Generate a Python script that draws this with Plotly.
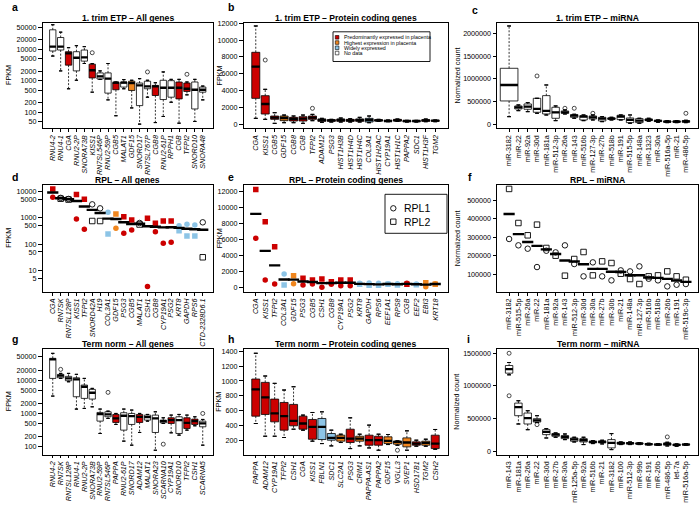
import plotly.graph_objects as go

FONT = "Liberation Sans, Arial, Helvetica, sans-serif"
W, H = 700, 508
COLX = [(42.5, 213.0), (243.5, 447.5), (497.0, 698.0)]
ROWY = [(22.7, 128.3), (185.0, 291.7), (349.0, 454.5)]
CLS_COLOR = {"P": "#CC0000", "H": "#F0861E", "W": "#8CC4E6", "N": "#FFFFFF"}

# ---------------- data ----------------
# a: 1. trim ETP - All genes (FPKM, log)
a_genes = ["RNU4-2", "RNU4-1", "CGA", "RNU2-2P", "SNORA73B", "KISS1", "RN7SL546P", "RNU2-59P", "CGB5", "MALAT1",
           "GDF15", "SNORD17", "RN7SL767P", "CGB8", "RNU2-61P", "RPPH1", "CGB", "TFPI2", "SNORD10", "SNORA48"]
a_class = ["N", "N", "P", "N", "N", "P", "N", "N", "P", "N", "H", "N", "N", "P", "N", "N", "P", "P", "N", "N"]
a_hi = [61000, 35300, 11300, 13100, 12200, 3500, 2050, 3530, 906, 1080, 1030, 1160, 1030, 860, 1900, 1100, 1100, 906, 1100, 673]
a_q3 = [42000, 23800, 8400, 8400, 9500, 3360, 1770, 1770, 880, 906, 960, 840, 960, 706, 1030, 1000, 906, 840, 906, 625]
a_med = [12200, 12200, 7430, 5380, 5520, 2150, 1380, 1160, 860, 860, 840, 706, 656, 656, 594, 594, 594, 552, 513, 513]
a_q1 = [8840, 9500, 3130, 2050, 4200, 1220, 1130, 400, 513, 625, 487, 160, 552, 336, 250, 297, 262, 453, 125, 430]
a_lo = [6100, 2050, 552, 1030, 3530, 430, 1100, 244, 76, 552, 135, 41, 297, 46, 72, 205, 44, 353, 50, 244]
a_out_genes = ["KISS1", "RN7SL767P", "TFPI2"]
a_out_vals = [7800, 1900, 1600]

# b: 1. trim ETP - Protein coding genes (FPKM)
b_genes = ["CGA", "KISS1", "CGB5", "GDF15", "CGB8", "CGB", "TFPI2", "ADAM12", "PSG3", "HIST1H3B", "HIST1H4D",
           "HIST1H4C", "COL3A1", "HIST1H2AC", "CYP19A1", "HIST1H1C", "PAPPA2", "SDC1", "HIST1H3F", "TGM2"]
b_class = ["P", "P", "P", "H", "P", "P", "P", "P", "P", "P", "P", "P", "W", "P", "P", "P", "P", "W", "P", "H"]
b_hi = [11690, 4135, 1350, 1070, 954, 1070, 1150, 676, 557, 716, 636, 795, 954, 557, 477, 596, 437, 437, 596, 477]
b_q3 = [8550, 3380, 954, 954, 795, 875, 954, 596, 517, 596, 557, 596, 676, 517, 437, 557, 398, 398, 517, 437]
b_med = [6840, 2385, 755, 716, 596, 636, 755, 477, 437, 477, 437, 477, 477, 437, 358, 437, 358, 358, 437, 398]
b_q1 = [3060, 1190, 557, 400, 358, 358, 557, 318, 318, 318, 318, 318, 238, 358, 318, 358, 278, 278, 318, 318]
b_lo = [676, 557, 80, 160, 160, 80, 400, 200, 238, 238, 238, 238, 160, 318, 278, 318, 238, 238, 278, 278]
b_out_genes = ["KISS1", "TFPI2"]
b_out_vals = [7630, 1870]

# c: 1. trim ETP - miRNA (normalized count)
c_genes = ["miR-3182", "miR-22", "miR-92a", "miR-30d", "miR-181a", "miR-512-3p", "miR-26a", "miR-143", "miR-516b",
           "miR-127-3p", "miR-27b", "miR-518b", "miR-191", "miR-515-5p", "miR-148a", "miR-1323", "miR-30a",
           "miR-516a-5p", "miR-21", "miR-486-5p"]
c_class = ["N"] * 20
c_hi = [2161000, 425000, 476000, 571000, 864000, 403000, 315000, 220000, 205000, 205000, 168000, 154000, 205000,
        205000, 132000, 132000, 95000, 80600, 80600, 88000]
c_q3 = [1231000, 403000, 447000, 571000, 630000, 374000, 293000, 212000, 190000, 183000, 154000, 139000, 198000,
        139000, 125000, 117000, 88000, 73000, 73000, 80600]
c_med = [864000, 374000, 388000, 337000, 293000, 264000, 264000, 190000, 168000, 154000, 125000, 125000, 168000,
         95000, 80600, 95000, 73000, 58600, 58600, 66000]
c_q1 = [513000, 337000, 330000, 264000, 227000, 132000, 242000, 154000, 95000, 117000, 73000, 110000, 103000,
        36600, 36600, 80600, 58600, 44000, 44000, 44000]
c_lo = [168000, 300000, 278000, 242000, 205000, 80600, 227000, 132000, 80600, 95000, 58600, 95000, 95000,
        22000, 22000, 66000, 44000, 36600, 36600, 36600]
c_out_genes = ["miR-30d", "miR-26a", "miR-143", "miR-127-3p", "miR-486-5p"]
c_out_vals = [1062000, 352000, 352000, 242000, 242000]

# d: RPL - All genes (FPKM, log)
d_genes = ["CGA", "RN7SK", "RN7SL128P", "KISS1", "TFPI2", "SNORD42A", "H19", "COL3A1", "GDF15", "PSG3", "CGB5",
           "MALAT1", "CSH1", "CGB8", "CYP19A1", "PSG2", "KRT8", "GAPDH", "RPS6", "CTD-2328D6.1"]
d_class = ["P", "N", "N", "P", "P", "N", "N", "W", "H", "P", "P", "N", "P", "P", "P", "P", "W", "W", "W", "N"]
d_rpl1 = [6080, 5800, 5300, 908, 366, 3290, 2320, 1630, 400, 258, 346, 640, 2.4, 298, 107, 117, 506, 569, 538, 678]
d_rpl2 = [12600, 5400, 5000, 7900, 5100, 762, 762, 243, 1410, 1110, 832, 560, 964, 621, 762, 762, 326, 204, 204, 31.4]

# e: RPL - Protein coding genes (FPKM)
e_genes = ["CGA", "KISS1", "TFPI2", "COL3A1", "GDF15", "PSG3", "CGB5", "CSH1", "CGB8", "CYP19A1", "PSG2", "KRT8",
           "GAPDH", "RPS6", "EEF1A1", "RPS8", "CGB", "EEF2", "EBI3", "KRT18"]
e_class = ["P", "P", "P", "W", "H", "P", "P", "P", "P", "P", "P", "W", "W", "W", "W", "W", "P", "W", "H", "H"]
e_rpl1 = [6145, 920, 418, 1672, 460, 293, 418, 2.4, 376, 209, 209, 500, 543, 500, 460, 460, 500, 418, 84, 460]
e_rpl2 = [12290, 8235, 5100, 293, 1463, 1150, 920, 1045, 710, 920, 920, 376, 250, 250, 376, 293, 376, 335, 585, 376]

# f: RPL - miRNA (normalized count)
f_genes = ["miR-3182", "miR-515-5p", "miR-26a", "miR-22", "miR-181a", "miR-92a", "miR-143", "miR-512-3p", "miR-30d",
           "miR-30a", "miR-27b", "miR-30b", "miR-21", "miR-148a", "miR-127-3p", "miR-516b", "miR-518b", "miR-26b",
           "miR-191", "miR-519c-3p"]
f_class = ["N"] * 20
f_rpl1 = [290900, 256300, 238000, 138000, 227000, 218000, 256300, 154500, 87300, 163600, 87300, 65500, 120000,
          114500, 141800, 74500, 65500, 32700, 41800, 45500]
f_rpl2 = [563600, 378000, 311000, 369000, 242000, 200000, 91000, 181800, 220000, 92700, 169000, 160000, 101800,
          72700, 45500, 87300, 92700, 114500, 87300, 69000]

# g: Term norm - All genes (FPKM, log)
g_genes = ["RNU4-2", "RN7SK", "RN7SL128P", "RNU4-1", "RNU2-2P", "SNORA73B", "RNU2-59P", "RN7SL546P", "PAPPA",
           "RNU2-61P", "SNORD17", "ADAM12", "MALAT1", "SNORA23", "SCARNA10", "CYP19A1", "SNORD10", "TFPI2", "CSH1",
           "SCARNA5"]
g_class = ["N", "N", "N", "N", "N", "N", "N", "N", "P", "N", "N", "P", "N", "N", "N", "P", "N", "P", "P", "N"]
g_hi = [63000, 15800, 15800, 14800, 11200, 5620, 1350, 1170, 1000, 1350, 1260, 1000, 933, 1120, 741, 891, 933, 891, 794, 661]
g_q3 = [44700, 14800, 12900, 11700, 7080, 5250, 1070, 1120, 933, 1050, 1000, 933, 891, 891, 631, 741, 794, 741, 676, 589]
g_med = [41700, 13500, 11200, 10500, 6310, 4170, 955, 933, 708, 851, 832, 794, 776, 708, 589, 631, 631, 525, 589, 501]
g_q1 = [11200, 11700, 9550, 3160, 2820, 2690, 589, 794, 537, 316, 468, 537, 631, 269, 525, 501, 251, 355, 468, 398]
g_lo = [3310, 11200, 8900, 1350, 1410, 1580, 251, 708, 468, 148, 112, 269, 589, 79, 501, 263, 224, 316, 427, 112]
g_out_genes = ["RN7SK", "RN7SL546P", "SCARNA10", "SCARNA5"]
g_out_vals = [20900, 4270, 120, 1000]

# h: Term norm - Protein coding genes (FPKM)
h_genes = ["PAPPA", "ADAM12", "CYP19A1", "TFPI2", "CSH1", "CGA", "KISS1", "FBLN1", "SDC1", "SLC2A1", "PSG3", "CRIM1",
           "PAPPA-AS1", "PAPPA2", "GDF15", "VGLL3", "SVEP1", "HSD17B1", "TGM2", "CSH2"]
h_class = ["P", "P", "P", "P", "P", "P", "P", "W", "W", "H", "P", "H", "P", "P", "H", "H", "H", "P", "H", "P"]
h_hi = [1370, 1066, 968, 879, 923, 544, 579, 588, 343, 289, 508, 289, 410, 289, 285, 200, 334, 209, 222, 352]
h_q3 = [1026, 981, 758, 713, 687, 530, 486, 499, 298, 276, 356, 262, 276, 262, 254, 196, 240, 187, 196, 276]
h_med = [887, 780, 566, 530, 468, 432, 387, 387, 240, 240, 231, 231, 209, 209, 200, 187, 178, 164, 173, 164]
h_q1 = [530, 553, 454, 343, 401, 356, 222, 218, 209, 196, 178, 196, 142, 142, 164, 155, 120, 142, 142, 97]
h_lo = [432, 262, 262, 245, 356, 343, 196, 164, 133, 178, 97, 133, 106, 75, 151, 142, 75, 129, 129, 88]
h_out_genes = ["VGLL3"]
h_out_vals = [75]

# i: Term norm - miRNA (normalized count)
i_genes = ["miR-143", "miR-181a", "miR-26a", "miR-22", "miR-30d", "miR-27b", "miR-30a", "miR-125a-5p", "miR-92a",
           "miR-516b", "miR-21", "miR-3182", "miR-100", "miR-512-3p", "miR-99b", "miR-191", "miR-26b", "miR-486-5p",
           "let-7a", "miR-516a-5p"]
i_class = ["N"] * 20
i_hi = [1358000, 773000, 620000, 544000, 346000, 280000, 264000, 214000, 214000, 163000, 168000, 270000, 142000,
        142000, 132000, 122000, 117000, 137000, 112000, 117000]
i_q3 = [1312000, 737000, 585000, 498000, 330000, 270000, 239000, 203000, 193000, 153000, 158000, 178000, 137000,
        132000, 127000, 117000, 112000, 127000, 107000, 112000]
i_med = [1256000, 676000, 508000, 473000, 295000, 254000, 219000, 183000, 168000, 142000, 142000, 127000, 122000,
         122000, 117000, 107000, 102000, 112000, 97000, 102000]
i_q1 = [1195000, 544000, 417000, 447000, 254000, 229000, 193000, 153000, 142000, 127000, 127000, 51000, 112000,
        112000, 112000, 102000, 97000, 92000, 86000, 97000]
i_lo = [1170000, 417000, 330000, 440000, 203000, 214000, 178000, 142000, 102000, 117000, 112000, 25000, 102000,
        102000, 102000, 97000, 92000, 81000, 76000, 92000]
i_out_genes = ["miR-143", "miR-143", "miR-22", "miR-486-5p"]
i_out_vals = [1500000, 849000, 407000, 219000]

TITLES = ["1. trim ETP \u2013 All genes", "1. trim ETP \u2013 Protein coding genes", "1. trim ETP \u2013 miRNA",
          "RPL \u2013 All genes", "RPL \u2013 Protein coding genes", "RPL \u2013 miRNA",
          "Term norm \u2013 All genes", "Term norm \u2013 Protein coding genes", "Term norm \u2013 miRNA"]
LETTERS = ["a", "b", "c", "d", "e", "f", "g", "h", "i"]
LETTER_POS = [(15, 7.5), (231, 7.5), (475, 10), (15, 176.5), (231, 176.5), (470, 176.5), (15, 339), (231, 339),
              (468, 339)]
YTITLES = ["FPKM", "FPKM", "Normalized count"] * 3
LEGEND_B = ["Predominantly expressed in placenta", "Highest expression in placenta", "Widely expressed", "No data"]
LEGEND_B_CLS = ["P", "H", "W", "N"]
LEGEND_E = ["RPL1", "RPL2"]

# ---------------- figure ----------------
fig = go.Figure()


def ax_ids(k):
    s = "" if k == 1 else str(k)
    return "x" + s, "y" + s, "xaxis" + s, "yaxis" + s


def setup_axes(k, genes, italic, ytype, yrange, yticks):
    r, c = divmod(k - 1, 3)
    x0, x1 = COLX[c]
    y0, y1 = ROWY[r]
    xs, ys, xa, ya = ax_ids(k)
    n = len(genes)
    ttext = [("<i>%s</i>" % g) if italic else g for g in genes]
    common = dict(showline=True, mirror=True, linecolor="black", linewidth=0.9, showgrid=False, zeroline=False,
                  ticks="outside", tickcolor="black", tickwidth=0.8, fixedrange=True, automargin=False,
                  tickfont=dict(size=7.2, family=FONT, color="black"))
    fig.layout[xa] = dict(domain=[x0 / W, x1 / W], anchor=ys, type="category", categoryorder="array",
                          categoryarray=genes, tickmode="array", tickvals=genes, ticktext=ttext,
                          range=[-1.3, n - 1 + 1.3], tickangle=-90, ticklen=3, **common)
    fig.layout[ya] = dict(domain=[1 - y1 / H, 1 - y0 / H], anchor=xs, type=ytype, range=yrange,
                          tickmode="array", tickvals=yticks, ticktext=[str(v) for v in yticks], ticklen=3.5,
                          **common)


def zero_box(xs, ys, xs_list, vals, width, lw):
    fig.add_trace(go.Box(x=xs_list, q1=vals, median=vals, q3=vals, lowerfence=vals, upperfence=vals,
                         width=width, fillcolor="rgba(0,0,0,0)", line=dict(color="black", width=lw),
                         whiskerwidth=0, boxpoints=False, xaxis=xs, yaxis=ys, showlegend=False,
                         hoverinfo="skip"))


def add_boxes(k, genes, classes, lo, q1, med, q3, hi, out_g, out_v, widths):
    xs, ys, _, _ = ax_ids(k)
    # dashed whiskers
    wx, wy = [], []
    for i, g in enumerate(genes):
        wx += [g, g, None, g, g, None]
        wy += [q3[i], hi[i], None, q1[i], lo[i], None]
    fig.add_trace(go.Scatter(x=wx, y=wy, mode="lines", connectgaps=False,
                             line=dict(color="black", width=0.8, dash="2px,1.6px"),
                             xaxis=xs, yaxis=ys, hoverinfo="skip", showlegend=False))
    groups = {}
    for i, g in enumerate(genes):
        groups.setdefault((classes[i], widths[i]), []).append(i)
    for (cls, wd), idx in groups.items():
        fig.add_trace(go.Box(x=[genes[i] for i in idx], q1=[q1[i] for i in idx], median=[med[i] for i in idx],
                             q3=[q3[i] for i in idx], lowerfence=[q1[i] for i in idx],
                             upperfence=[q3[i] for i in idx], width=wd, fillcolor=CLS_COLOR[cls],
                             line=dict(color="black", width=0.8), whiskerwidth=0, boxpoints=False,
                             xaxis=xs, yaxis=ys, showlegend=False))
    wgroups = {}
    for i in range(len(genes)):
        wgroups.setdefault(widths[i], []).append(i)
    for wd, idx in wgroups.items():
        zero_box(xs, ys, [genes[i] for i in idx] * 2, [hi[i] for i in idx] + [lo[i] for i in idx],
                 min(wd, 0.8) * 0.5, 0.8)
        zero_box(xs, ys, [genes[i] for i in idx], [med[i] for i in idx], wd, 2.3)
    fig.add_trace(go.Scatter(x=out_g, y=out_v, mode="markers",
                             marker=dict(symbol="circle-open", size=4, color="black", line=dict(width=0.7)),
                             xaxis=xs, yaxis=ys, hoverinfo="skip", showlegend=False))


def add_points(k, genes, classes, rpl1, rpl2):
    xs, ys, _, _ = ax_ids(k)
    for fill_sym, open_sym, vals in (("circle", "circle-open", rpl1), ("square", "square-open", rpl2)):
        for cls in ["N", "P", "H", "W"]:
            idx = [i for i, c in enumerate(classes) if c == cls]
            if not idx:
                continue
            if cls == "N":
                mk = dict(symbol=open_sym, size=5.5, color="black", line=dict(width=0.9, color="black"))
            else:
                mk = dict(symbol=fill_sym, size=5.5, color=CLS_COLOR[cls], line=dict(width=0))
            fig.add_trace(go.Scatter(x=[genes[i] for i in idx], y=[vals[i] for i in idx], mode="markers",
                                     marker=mk, xaxis=xs, yaxis=ys, hoverinfo="skip", showlegend=False))
    means = [(a + b) / 2.0 for a, b in zip(rpl1, rpl2)]
    fig.add_trace(go.Scatter(x=genes, y=means, mode="markers",
                             marker=dict(symbol="line-ew", size=8, color="black",
                                         line=dict(width=2.4, color="black")),
                             xaxis=xs, yaxis=ys, hoverinfo="skip", showlegend=False))


LIN_12K = [0, 2000, 4000, 6000, 8000, 10000, 12000]

setup_axes(1, a_genes, True, "log", [1.48, 4.85], [50, 100, 200, 500, 1000, 2000, 5000, 10000, 20000, 50000])
add_boxes(1, a_genes, a_class, a_lo, a_q1, a_med, a_q3, a_hi, a_out_genes, a_out_vals, [0.8] * 20)
setup_axes(2, b_genes, True, "linear", [-510, 12080], LIN_12K)
add_boxes(2, b_genes, b_class, b_lo, b_q1, b_med, b_q3, b_hi, b_out_genes, b_out_vals, [0.85] * 20)
setup_axes(3, c_genes, False, "linear", [-88000, 2233000], [0, 500000, 1000000, 1500000, 2000000])
add_boxes(3, c_genes, c_class, c_lo, c_q1, c_med, c_q3, c_hi, c_out_genes, c_out_vals, [1.9] + [0.8] * 19)
setup_axes(4, d_genes, True, "log", [0.183, 4.256], [5, 10, 50, 100, 500, 1000, 5000, 10000])
add_points(4, d_genes, d_class, d_rpl1, d_rpl2)
setup_axes(5, e_genes, True, "linear", [-550, 12840], LIN_12K)
add_points(5, e_genes, e_class, e_rpl1, e_rpl2)
setup_axes(6, f_genes, False, "linear", [3800, 585000], [100000, 200000, 300000, 400000, 500000])
add_points(6, f_genes, f_class, f_rpl1, f_rpl2)
setup_axes(7, g_genes, True, "log", [1.77, 4.93], [100, 200, 500, 1000, 2000, 5000, 10000, 20000, 50000])
add_boxes(7, g_genes, g_class, g_lo, g_q1, g_med, g_q3, g_hi, g_out_genes, g_out_vals, [0.8] * 20)
setup_axes(8, h_genes, True, "linear", [18, 1427], [200, 400, 600, 800, 1000, 1200, 1400])
add_boxes(8, h_genes, h_class, h_lo, h_q1, h_med, h_q3, h_hi, h_out_genes, h_out_vals, [0.85] * 20)
setup_axes(9, i_genes, False, "linear", [-50000, 1565000], [0, 500000, 1000000, 1500000])
add_boxes(9, i_genes, i_class, i_lo, i_q1, i_med, i_q3, i_hi, i_out_genes, i_out_vals, [0.8] * 20)

annotations = []
for k in range(9):
    r, c = divmod(k, 3)
    x0, x1 = COLX[c]
    y0, y1 = ROWY[r]
    annotations.append(dict(text="<b><u>%s</u></b>" % TITLES[k], x=(x0 + x1) / 2 / W, y=1 - (y0 - 4.8) / H,
                            xref="paper", yref="paper", xanchor="center", yanchor="middle", showarrow=False,
                            font=dict(size=8.6, family=FONT, color="black")))
    lx, ly = LETTER_POS[k]
    annotations.append(dict(text="<b>%s</b>" % LETTERS[k], x=lx / W, y=1 - ly / H, xref="paper", yref="paper",
                            xanchor="center", yanchor="middle", showarrow=False,
                            font=dict(size=10.5, family=FONT, color="black")))
    ytx = [8.5, 219.0, 457.0][c]
    annotations.append(dict(text=YTITLES[k], x=ytx / W, y=1 - (y0 + y1) / 2 / H, xref="paper", yref="paper",
                            xanchor="center", yanchor="middle", textangle=-90, showarrow=False,
                            font=dict(size=7.2, family=FONT, color="black")))


def px_rect(x0, y0, x1, y1, **kw):
    return dict(xref="paper", yref="paper", x0=x0 / W, x1=x1 / W, y0=1 - y1 / H, y1=1 - y0 / H,
                layer="above", **kw)


# legend for panel b
shapes = [px_rect(333, 31.8, 430, 61.5, type="rect", line=dict(color="black", width=0.9), fillcolor="white")]
for j, (lab, cls) in enumerate(zip(LEGEND_B, LEGEND_B_CLS)):
    yc = 37.3 + j * 5.25
    shapes.append(px_rect(335.3, yc - 1.8, 338.9, yc + 1.8, type="rect", fillcolor=CLS_COLOR[cls],
                          line=dict(color="black", width=0.6)))
    annotations.append(dict(text=lab, x=341.5 / W, y=1 - yc / H, xref="paper", yref="paper", xanchor="left",
                            yanchor="middle", showarrow=False, font=dict(size=5.3, family=FONT, color="black")))

# legend for panel e
shapes.append(px_rect(385, 194.3, 447, 233.3, type="rect", line=dict(color="black", width=0.9),
                      fillcolor="white"))
for j, (lab, shp) in enumerate(zip(LEGEND_E, ["circle", "rect"])):
    yc = 208.3 + j * 13.4
    shapes.append(px_rect(390.6, yc - 2.7, 396.0, yc + 2.7, type=shp, fillcolor="white",
                          line=dict(color="black", width=0.9)))
    annotations.append(dict(text=lab, x=402.5 / W, y=1 - yc / H, xref="paper", yref="paper", xanchor="left",
                            yanchor="middle", showarrow=False, font=dict(size=10.5, family=FONT, color="black")))

fig.update_layout(
    width=W, height=H, margin=dict(l=0, r=0, t=0, b=0, pad=0, autoexpand=False),
    paper_bgcolor="white", plot_bgcolor="white",
    boxmode="overlay", hovermode=False, font=dict(family=FONT, color="black"),
    annotations=annotations, shapes=shapes, showlegend=False,
)

fig.write_html("out.html", config={"responsive": False, "displayModeBar": False},
               post_script="document.body.style.margin='0px';document.body.style.overflow='hidden';")
